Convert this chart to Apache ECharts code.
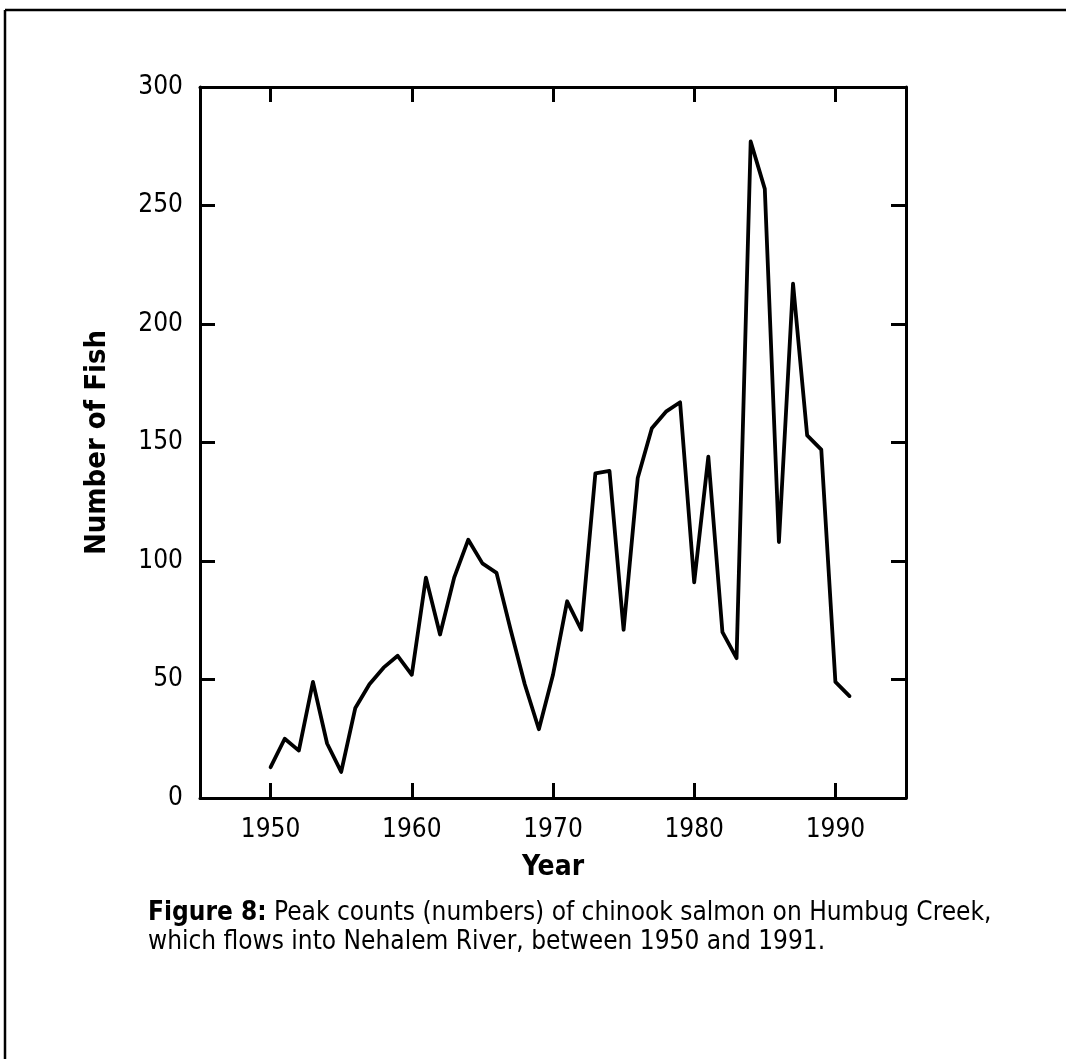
<!DOCTYPE html>
<html>
<head>
<meta charset="utf-8">
<script src="https://cdn.jsdelivr.net/npm/echarts@6/dist/echarts.min.js"></script>
<style>
html,body{margin:0;padding:0;background:#fff;}
#chart{width:1066px;height:1059px;}
</style>
</head>
<body>
<div id="chart"></div>
<script>
const years = [1950,1951,1952,1953,1954,1955,1956,1957,1958,1959,1960,1961,1962,1963,1964,1965,1966,1967,1968,1969,1970,1971,1972,1973,1974,1975,1976,1977,1978,1979,1980,1981,1982,1983,1984,1985,1986,1987,1988,1989,1990,1991];
const fishCounts = [13,25,20,49,23,11,38,48,55,60,52,93,69,93,109,99,95,71,48,29,52,83,71,137,138,71,135,156,163,167,91,144,70,59,277,257,108,217,153,147,49,43];
const xTicks = [1950,1960,1970,1980,1990];
const yTicks = [0,50,100,150,200,250,300];
const xTitle = 'Year';
const yTitle = 'Number of Fish';
const captionBold = 'Figure 8:';
const captionLine1 = ' Peak counts (numbers) of chinook salmon on Humbug Creek,';
const captionLine2 = 'which flows into Nehalem River, between 1950 and 1991.';

const FONT = '"Liberation Sans Narrow", "Arial Narrow", "DejaVu Sans Condensed", "Roboto Condensed", sans-serif';
const chart = echarts.init(document.getElementById('chart'), null, {renderer: 'canvas'});
const axisLine = {show: true, onZero: false, lineStyle: {color: '#000', width: 3}};
const tick = {show: true, inside: true, length: 15, lineStyle: {color: '#000', width: 3}};
const option = {
  backgroundColor: '#fff',
  animation: false,
  grid: {left: 200, top: 87, right: 160, bottom: 261},
  xAxis: [{
    type: 'value', min: 1945, max: 1995, position: 'bottom',
    name: xTitle, nameLocation: 'middle', nameGap: 56,
    nameTextStyle: {fontFamily: FONT, fontWeight: 'bold', fontSize: 28, color: '#000'},
    axisLine: axisLine,
    axisTick: Object.assign({customValues: xTicks}, tick),
    axisLabel: {customValues: xTicks, margin: 19, fontFamily: FONT, fontSize: 26, color: '#000', formatter: v => String(v)},
    splitLine: {show: false}
  }, {
    type: 'value', min: 1945, max: 1995, position: 'top',
    axisLine: axisLine,
    axisTick: Object.assign({customValues: xTicks}, tick),
    axisLabel: {show: false},
    splitLine: {show: false}
  }],
  yAxis: [{
    type: 'value', min: 0, max: 300, interval: 50, position: 'left',
    name: yTitle, nameLocation: 'middle', nameGap: 88, nameRotate: 90,
    nameTextStyle: {fontFamily: FONT, fontWeight: 'bold', fontSize: 29, color: '#000'},
    axisLine: axisLine,
    axisTick: Object.assign({customValues: yTicks}, tick),
    axisLabel: {customValues: yTicks, margin: 17, fontFamily: FONT, fontSize: 26, color: '#000'},
    splitLine: {show: false}
  }, {
    type: 'value', min: 0, max: 300, interval: 50, position: 'right',
    axisLine: axisLine,
    axisTick: Object.assign({customValues: yTicks}, tick),
    axisLabel: {show: false},
    splitLine: {show: false}
  }],
  series: [{
    type: 'line',
    data: years.map((y, i) => [y, fishCounts[i]]),
    showSymbol: false,
    lineStyle: {color: '#000', width: 3.8, join: 'round', cap: 'round'},
    xAxisIndex: 0, yAxisIndex: 0
  }],
  graphic: [
    {type: 'line', shape: {x1: 5, y1: 10, x2: 1066, y2: 10}, style: {stroke: '#000', lineWidth: 2.5}},
    {type: 'line', shape: {x1: 5, y1: 10, x2: 5, y2: 1059}, style: {stroke: '#000', lineWidth: 2.5}},
    {type: 'text', left: 148, top: 899, style: {
      text: '{b|' + captionBold + '}' + captionLine1 + '\n' + captionLine2,
      fontFamily: FONT, fontSize: 26, lineHeight: 29, fill: '#000',
      rich: {b: {fontFamily: FONT, fontWeight: 'bold', fontSize: 26, fill: '#000'}}
    }}
  ]
};
chart.setOption(option);
</script>
</body>
</html>
